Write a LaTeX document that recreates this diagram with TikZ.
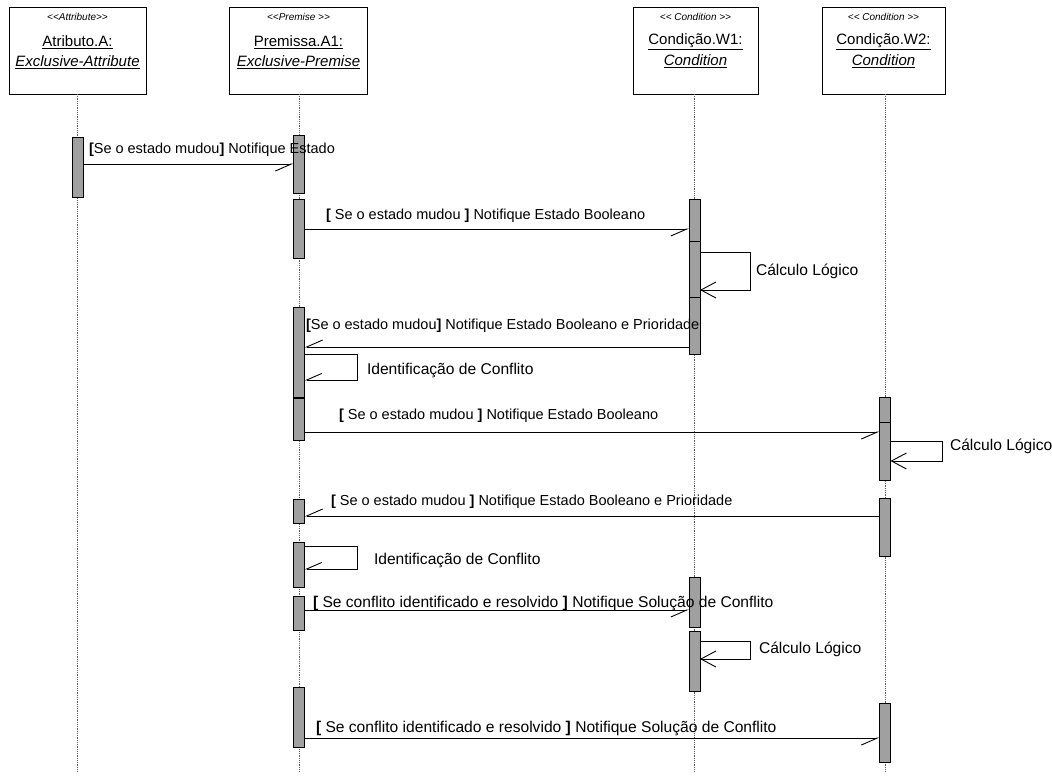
\documentclass[tikz,border=0pt]{standalone}
\usepackage{fontspec}
\setmainfont{Liberation Sans}
\usetikzlibrary{arrows.meta}
\definecolor{barfill}{RGB}{160,160,160}
\definecolor{lifegray}{RGB}{90,90,90}
% activation bar: name, x of lifeline, top, bottom
\newcommand\actbar[4]{\node[actbox, minimum height=#4-#3] (#1) at (#2,#3) {};}
% guillemet-free stereotype brackets
\newcommand\lt{<\kern0pt<}
\newcommand\gt{>\kern0pt>}
\begin{document}
\begin{tikzpicture}[x=1pt,y=-1pt,
  every node/.style={inner sep=0pt, outer sep=0pt},
  objbox/.style={draw, line width=1pt, fill=white, minimum width=#1, minimum height=86, anchor=north},
  stereo/.style={font=\fontsize{10}{11}\selectfont\itshape},
  objname/.style={font=\fontsize{15}{17}\selectfont},
  objtype/.style={font=\fontsize{15}{17}\selectfont\itshape},
  lifeline/.style={densely dotted, line width=0.8pt, lifegray},
  actbox/.style={draw, line width=0.9pt, fill=barfill, minimum width=11, anchor=north},
  msg/.style={draw, line width=0.9pt, -{Straight Barb[harpoon,swap,length=16pt,width=14pt,line width=0.9pt]}},
  selfh/.style={draw, line width=0.9pt, -{Straight Barb[harpoon,swap,length=15pt,width=13pt,line width=0.9pt]}},
  selff/.style={draw, line width=0.9pt, -{Straight Barb[length=15pt,width=16pt,line width=0.9pt]}},
  lbl/.style={anchor=west, font=\fontsize{14.5}{16}\selectfont},
  lblbig/.style={anchor=west, font=\fontsize{15.6}{17}\selectfont},
]
\useasboundingbox (0,0) rectangle (1052,776);

% object boxes
\node[objbox=137] (oA) at (77.5,8) {};
\node[objbox=138] (oP) at (298.5,8) {};
\node[objbox=125] (oW1) at (695.5,8) {};
\node[objbox=123] (oW2) at (883.5,8) {};

\node[stereo] (sA) at (77.5,17) {\lt Attribute\gt};
\node[objname] (nA) at (77.5,42) {\underline{Atributo.A:}};
\node[objtype] (tA) at (77.5,62) {\underline{Exclusive-Attribute}};

\node[stereo] (sP) at (298.5,17) {\lt Premise \gt};
\node[objname] (nP) at (298.5,42) {\underline{Premissa.A1:}};
\node[objtype] (tP) at (298.5,62) {\underline{Exclusive-Premise}};

\node[stereo] (sW1) at (695.5,17) {\lt{} Condition \gt};
\node[objname] (nW1) at (695.5,42) {\underline{Condição.W1:}};
\node[objtype] (tW1) at (695.5,61) {\underline{Condition}};

\node[stereo] (sW2) at (883.5,17) {\lt{} Condition \gt};
\node[objname] (nW2) at (883.5,42) {\underline{Condição.W2:}};
\node[objtype] (tW2) at (883.5,61) {\underline{Condition}};

% lifelines
\coordinate (eA) at (77.5,772);
\coordinate (eP) at (299,772);
\coordinate (eW1) at (694.5,772);
\coordinate (eW2) at (885,772);
\draw[lifeline] (oA.south -| eA) -- (eA);
\draw[lifeline] (oP.south -| eP) -- (eP);
\draw[lifeline] (oW1.south -| eW1) -- (eW1);
\draw[lifeline] (oW2.south -| eW2) -- (eW2);

% activation bars
\actbar{A1}{77.5}{137}{197}
\actbar{P1}{299}{135}{193}
\actbar{P2}{299}{199}{258}
\actbar{P3}{299}{307}{398}
\actbar{P4}{299}{398}{440}
\actbar{P5}{299}{499}{523}
\actbar{P6}{299}{542}{587}
\actbar{P7}{299}{596}{630}
\actbar{P8}{299}{687}{747}
\actbar{W1a}{694.5}{199}{241}
\actbar{W1b}{694.5}{241}{297}
\actbar{W1c}{694.5}{297}{354}
\actbar{W1d}{694.5}{577}{627}
\actbar{W1e}{694.5}{631}{691}
\actbar{W2a}{885}{397}{422}
\actbar{W2b}{885}{422}{480}
\actbar{W2c}{885}{498}{556}
\actbar{W2d}{885}{703}{762}
\draw[line width=2pt] (P3.south west) -- (P3.south east);

% messages
\draw[msg] (A1.east |- 0,164) -- (P1.west |- 0,164);
\node[lbl] (l1) at (89,150) {\textbf{[}Se o estado mudou\textbf{]} Notifique Estado};

\draw[msg] (P2.east |- 0,229) -- (W1a.west |- 0,229);
\node[lbl] (l2) at (326,216) {\textbf{[} Se o estado mudou \textbf{]} Notifique Estado Booleano};

\draw[selff] (W1b.east |- 0,252) -| (750,290) -- (W1b.east |- 0,290);
\node[lblbig] (l3) at (756,271) {Cálculo Lógico};

\draw[msg] (W1c.west |- 0,347) -- (P3.east |- 0,347);
\node[lbl] (l4) at (306,326) {\textbf{[}Se o estado mudou\textbf{]} Notifique Estado Booleano e Prioridade};

\draw[selfh] (P3.east |- 0,354) -| (357,380) -- (P3.east |- 0,380);
\node[lblbig] (l5) at (367,370) {Identificação de Conflito};

\draw[msg] (P4.east |- 0,432) -- (W2b.west |- 0,432);
\node[lbl] (l6) at (339,416) {\textbf{[} Se o estado mudou \textbf{]} Notifique Estado Booleano};

\draw[selff] (W2b.east |- 0,441) -| (942,461) -- (W2b.east |- 0,461);
\node[lblbig] (l7) at (950,446) {Cálculo Lógico};

\draw[msg] (W2c.west |- 0,516) -- (P5.east |- 0,516);
\node[lbl] (l8) at (331,502) {\textbf{[} Se o estado mudou \textbf{]} Notifique Estado Booleano e Prioridade};

\draw[selfh] (P6.east |- 0,546) -| (357,569) -- (P6.east |- 0,569);
\node[lblbig] (l9) at (374,560) {Identificação de Conflito};

\draw[msg] (P7.east |- 0,610) -- (W1d.west |- 0,610);
\node[lblbig] (l10) at (313,603) {\textbf{[} Se conflito identificado e resolvido \textbf{]} Notifique Solução de Conflito};

\draw[selff] (W1e.east |- 0,641) -| (750,659) -- (W1e.east |- 0,659);
\node[lblbig] (l11) at (759,649) {Cálculo Lógico};

\draw[msg] (P8.east |- 0,738) -- (W2d.west |- 0,738);
\node[lblbig] (l12) at (316,728) {\textbf{[} Se conflito identificado e resolvido \textbf{]} Notifique Solução de Conflito};
\end{tikzpicture}
\end{document}
